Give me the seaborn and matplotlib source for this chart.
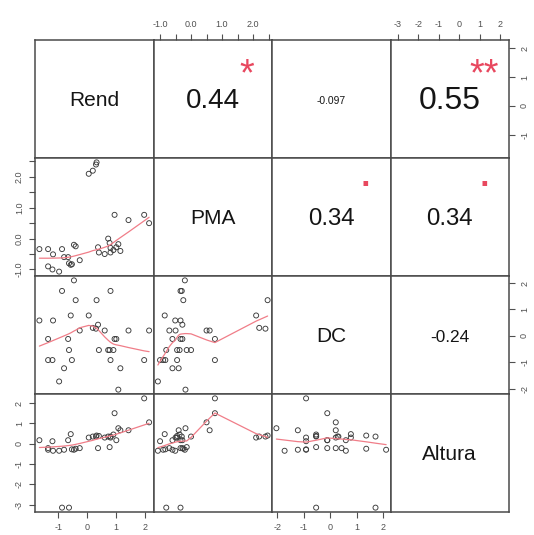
import numpy as np
import pandas as pd
import matplotlib
matplotlib.use("Agg")
import matplotlib.pyplot as plt
import matplotlib.transforms as mtransforms
from matplotlib.textpath import TextPath
from matplotlib.font_manager import FontProperties
import seaborn as sns

sns.set_style("white")
plt.rcParams['font.family'] = ['Liberation Sans', 'DejaVu Sans']

# ---------------- data ----------------
variables = ["Rend", "PMA", "DC", "Altura"]
rend = [-1.65, -1.35, -1.35, -1.20, -1.18, -0.97, -0.87, -0.80, -0.66, -0.63, -0.57, -0.53,
        -0.46, -0.40, -0.26, 0.05, 0.19, 0.32, 0.30, 0.37, 0.40, 0.60, 0.72, 0.77, 0.80, 0.80,
        0.90, 0.94, 1.00, 1.07, 1.14, 1.42, 1.96, 2.13]
pma = [-0.34, -0.34, -0.90, -1.00, -0.51, -1.07, -0.34, -0.60, -0.60, -0.80, -0.85, -0.83,
       -0.20, -0.25, -0.70, 2.10, 2.20, 2.47, 2.40, -0.28, -0.45, -0.50, 0.00, -0.14, -0.30, -0.45,
       -0.37, 0.77, -0.28, -0.18, -0.40, 0.60, 0.77, 0.50]
dc = [0.58, -0.12, -0.92, -0.92, 0.58, -1.73, 1.70, -1.23, -0.12, -0.54, 0.77, -0.92,
      2.10, 1.35, 0.20, 0.77, 0.30, 1.35, 0.27, 0.42, -0.54, 0.20, -0.54, -0.54, 1.70, -0.92,
      -0.54, -0.12, -0.12, -2.04, -1.23, 0.20, -0.92, 0.20]
altura = [0.17, -0.22, -0.30, 0.12, -0.35, -0.35, -3.15, -0.30, 0.17, -3.15, 0.47, -0.28,
          -0.30, -0.25, -0.22, 0.30, 0.35, 0.40, 0.35, -0.22, 0.38, 0.30, 0.35, -0.17, 0.35, 0.30,
          0.45, 1.50, 0.17, 0.76, 0.66, 0.66, 2.23, 1.05]

df = pd.DataFrame({"Rend": rend, "PMA": pma, "DC": dc, "Altura": altura})

# upper panels: (row, col) -> correlation text, value, significance
corr_pairs = [(0, 1), (0, 2), (0, 3), (1, 2), (1, 3), (2, 3)]
corr_text = ["0.44", "-0.097", "0.55", "0.34", "0.34", "-0.24"]
corr_value = [0.44, -0.097, 0.55, 0.34, 0.34, -0.24]
corr_signif = ["*", "", "**", ".", ".", ""]

tick_values = {
    "Rend": [-1, 0, 1, 2],
    "PMA": [-1.0, -0.5, 0.0, 0.5, 1.0, 1.5, 2.0, 2.5],
    "DC": [-2, -1, 0, 1, 2],
    "Altura": [-3, -2, -1, 0, 1, 2],
}
tick_text = {
    "Rend": ["-1", "0", "1", "2"],
    "PMA": ["-1.0", "", "0.0", "", "1.0", "", "2.0", ""],
    "DC": ["-2", "-1", "0", "1", "2"],
    "Altura": ["-3", "-2", "-1", "0", "1", "2"],
}


def lowess(x, y, f=2 / 3, it=3):
    order = np.argsort(x, kind="mergesort")
    x = np.asarray(x, float)[order]
    y = np.asarray(y, float)[order]
    n = len(x)
    r = int(np.ceil(f * n))
    yest = np.zeros(n)
    robust = np.ones(n)
    for _ in range(it + 1):
        for i in range(n):
            d = np.abs(x - x[i])
            h = np.sort(d)[r - 1]
            u = np.clip(d / max(h, 1e-12), 0, 1)
            w = (1 - u ** 3) ** 3 * robust
            sw = w.sum()
            xm = (w * x).sum() / sw
            ym = (w * y).sum() / sw
            sxx = (w * (x - xm) ** 2).sum()
            b = (w * (x - xm) * (y - ym)).sum() / sxx if sxx > 1e-10 else 0.0
            yest[i] = ym + b * (x[i] - xm)
        res = y - yest
        s = np.median(np.abs(res))
        if s <= 0:
            break
        u = np.clip(res / (6 * s), -1, 1)
        robust = (1 - u ** 2) ** 2
    return x, yest


def padded(v):
    lo, hi = min(v), max(v)
    d = (hi - lo) * 0.04
    return lo - d, hi + d


limits = {v: padded(df[v]) for v in variables}

W, H = 534, 535
fig = plt.figure(figsize=(W / 100, H / 100), dpi=100)
left_px, right_px, top_px, bottom_px = 35, 509, 40, 512
n = len(variables)
pw = (right_px - left_px) / n
ph = (bottom_px - top_px) / n

line_col = "#4a4a4a"
tick_col = "#505050"
point_col = "#3a3a3a"
smooth_col = "#F07D88"
star_col = "#E8485F"

axes = [[None] * n for _ in range(n)]
for i in range(n):
    for j in range(n):
        x0 = (left_px + j * pw) / W
        y0 = 1 - (top_px + (i + 1) * ph) / H
        ax = fig.add_axes([x0, y0, pw / W, ph / H])
        axes[i][j] = ax
        ax.set_xlim(limits[variables[j]])
        ax.set_ylim(limits[variables[i]])
        for s in ax.spines.values():
            s.set_color(line_col)
            s.set_linewidth(1.1)
        ax.set_xticks([])
        ax.set_yticks([])
        ax.set_xlabel("")
        ax.set_ylabel("")

renderer = fig.canvas.get_renderer()

# lower panels: scatter + lowess
for i in range(n):
    for j in range(n):
        ax = axes[i][j]
        if i > j:
            xv, yv = variables[j], variables[i]
            sns.scatterplot(data=df, x=xv, y=yv, ax=ax, marker="o", s=13,
                            facecolor="none", edgecolor=point_col, linewidth=0.65,
                            legend=False)
            lx, ly = lowess(df[xv].values, df[yv].values)
            sns.lineplot(x=lx, y=ly, ax=ax, color=smooth_col, lw=0.9,
                         estimator=None, sort=False, legend=False)
            ax.set_xlim(limits[xv])
            ax.set_ylim(limits[yv])
            ax.set_xlabel("")
            ax.set_ylabel("")
        elif i == j:
            ax.text(0.5, 0.485, variables[i], transform=ax.transAxes, ha="center",
                    va="center", fontsize=15, color="#151515")

fp = FontProperties(family="Liberation Sans")

# upper panels: correlation text + significance
for (i, j), txt, r, sig in zip(corr_pairs, corr_text, corr_value, corr_signif):
    ax = axes[i][j]
    probe = ax.text(0, 0, txt, fontsize=10)
    wpx = probe.get_window_extent(renderer).width
    probe.remove()
    base_fs = 10 * (0.8 * pw) / wpx
    fs = base_fs * (abs(r) + 0.3) / 1.3
    ax.text(0.5, 0.48, txt, transform=ax.transAxes, ha="center", va="center",
            fontsize=fs, color="#151515")
    if sig.strip():
        sfs = base_fs * (0.78 if sig.startswith("*") else 1.0)
        ext = TextPath((0, 0), sig, size=sfs, prop=fp).get_extents()
        ink_mid = (ext.y0 + ext.y1) / 2.0
        tr = mtransforms.offset_copy(ax.transAxes, fig=fig, y=-ink_mid, units="points")
        ax.text(0.79, 0.785, sig, transform=tr, ha="center", va="baseline",
                fontsize=sfs, color=star_col)

# R-style outer axes
tick_kw = dict(length=4.5, width=0.8, color=tick_col, labelsize=6.5,
               labelcolor=tick_col, pad=3.5)
for j in range(n):
    v = variables[j]
    if j % 2 == 0:  # bottom axis on last row
        ax = axes[n - 1][j]
        ax.set_xticks(tick_values[v])
        ax.set_xticklabels(tick_text[v])
        ax.xaxis.set_ticks_position("bottom")
        ax.tick_params(axis="x", which="major", bottom=True, **tick_kw)
    else:  # top axis on first row
        ax = axes[0][j]
        ax.set_xticks(tick_values[v])
        ax.set_xticklabels(tick_text[v])
        ax.xaxis.set_ticks_position("top")
        ax.tick_params(axis="x", which="major", top=True, labeltop=True,
                       bottom=False, labelbottom=False, **tick_kw)
for i in range(n):
    v = variables[i]
    if i % 2 == 1:  # left axis on first column
        ax = axes[i][0]
        ax.set_yticks(tick_values[v])
        ax.set_yticklabels(tick_text[v], rotation=90, va="center")
        ax.yaxis.set_ticks_position("left")
        ax.tick_params(axis="y", which="major", left=True, **tick_kw)
    else:  # right axis on last column
        ax = axes[i][n - 1]
        ax.set_yticks(tick_values[v])
        ax.set_yticklabels(tick_text[v], rotation=90, va="center")
        ax.yaxis.set_ticks_position("right")
        ax.tick_params(axis="y", which="major", right=True, labelright=True,
                       left=False, labelleft=False, **tick_kw)

fig.savefig("out.png", dpi=100, facecolor="white")
